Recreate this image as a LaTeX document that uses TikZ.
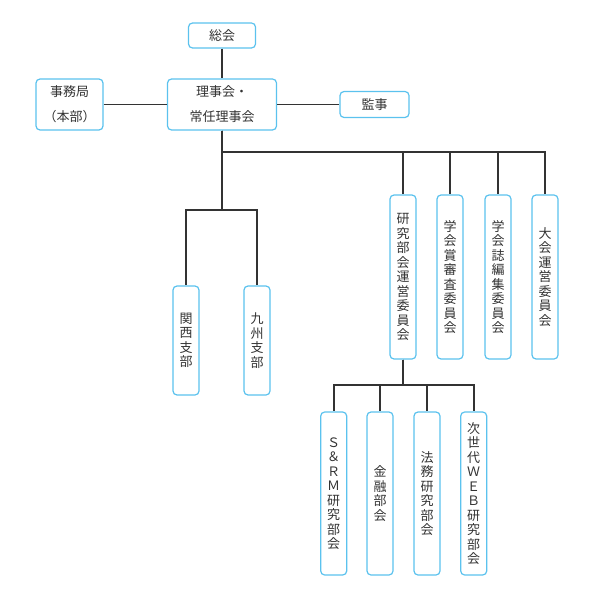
\documentclass[tikz,border=0pt]{standalone}
\usepackage{fontspec}
\setmainfont{Noto Sans CJK JP}
\definecolor{boxblue}{HTML}{5BC2EE}
\definecolor{ink}{HTML}{333333}
\tikzset{
  box/.style={draw=boxblue, line width=1.2pt, rounded corners=4pt, fill=white, text=ink,
    inner sep=0pt, align=center, font=\fontsize{13}{25}\selectfont},
  vbox/.style={box, minimum width=26pt, font=\fontsize{13}{14.5}\selectfont},
  link/.style={draw=ink, line width=1.8pt},
}

\begin{document}
\begin{tikzpicture}[x=1pt, y=-1pt]
\useasboundingbox (0,0) rectangle (601,604);
\node[box, minimum width=67pt, minimum height=25pt] (soukai) at (222, 35.5) {総会};
\node[box, minimum width=109pt, minimum height=51pt] (riji) at (222, 104.5) {理事会・\\常任理事会};
\node[box, minimum width=67pt, minimum height=51pt] (jimu) at (69.5, 104.5) {事務局\\（本部）};
\node[box, minimum width=69pt, minimum height=26pt] (kanji) at (374.5, 104.5) {監事};
\node[vbox, minimum height=109pt] (kansai) at (186, 340.5) {関\\西\\支\\部};
\node[vbox, minimum height=109pt] (kyushu) at (257, 340.5) {九\\州\\支\\部};
\node[vbox, minimum height=164pt] (kenkyu) at (403, 277) {研\\究\\部\\会\\運\\営\\委\\員\\会};
\node[vbox, minimum height=164pt] (shoshin) at (450, 277) {学\\会\\賞\\審\\査\\委\\員\\会};
\node[vbox, minimum height=164pt] (henshu) at (498, 277) {学\\会\\誌\\編\\集\\委\\員\\会};
\node[vbox, minimum height=164pt] (taikai) at (545, 277) {大\\会\\運\\営\\委\\員\\会};
\node[vbox, minimum height=163pt] (srm) at (333.7, 493.5) {Ｓ\\＆\\Ｒ\\Ｍ\\研\\究\\部\\会};
\node[vbox, minimum height=163pt] (kinyu) at (380, 493.5) {金\\融\\部\\会};
\node[vbox, minimum height=163pt] (homu) at (427, 493.5) {法\\務\\研\\究\\部\\会};
\node[vbox, minimum height=163pt] (web) at (473.7, 493.5) {次\\世\\代\\Ｗ\\Ｅ\\Ｂ\\研\\究\\部\\会};
\coordinate (busA) at (0, 152);
\coordinate (busB) at (0, 210);
\coordinate (busC) at (0, 385);
\draw[link] (soukai) -- (riji);
\draw[link] (jimu) -- (riji);
\draw[link] (riji) -- (kanji);
\foreach \n in {kenkyu, shoshin, henshu, taikai}
  \draw[link] (riji.south) |- (busA -| \n.north) -- (\n.north);
\foreach \n in {kansai, kyushu}
  \draw[link] (riji.south) |- (busB -| \n.north) -- (\n.north);
\foreach \n in {srm, kinyu, homu, web}
  \draw[link] (kenkyu.south) |- (busC -| \n.north) -- (\n.north);
\end{tikzpicture}
\end{document}
